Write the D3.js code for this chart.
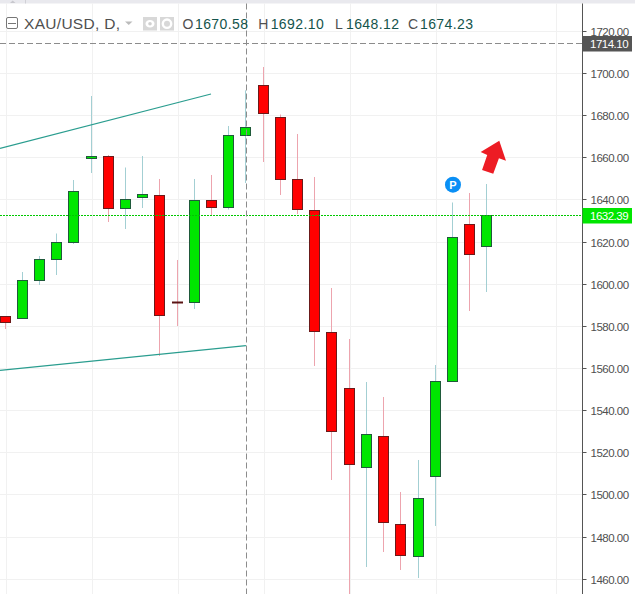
<!DOCTYPE html>
<html>
<head>
<meta charset="utf-8">
<script src="https://cdnjs.cloudflare.com/ajax/libs/d3/7.8.5/d3.min.js"></script>
<style>
html,body{margin:0;padding:0;background:#fff;overflow:hidden}
svg{display:block}
text{font-family:"Liberation Sans",Arial,sans-serif}
</style>
</head>
<body>
<svg id="chart" width="635" height="594"></svg>
<script>
// ---- data ----
const opens  = [1584.78,1583.83,1601.86,1611.83,1619.89,1659.74,1660.69,1636.02,1641.24,1642.19,1591.42,1591.42,1639.82,1636.50,1670.58,1694.38,1679.20,1649.78,1635.07,1577.19,1550.62,1513.14,1527.85,1486.10,1470.91,1508.87,1553.94,1628.43,1617.99];
const highs  = [1585.00,1605.90,1613.49,1624.16,1649.54,1689.40,1661.41,1655.47,1660.93,1650.02,1611.59,1650.02,1651.92,1675.16,1692.10,1703.16,1680.62,1671.37,1650.97,1598.30,1574.11,1553.70,1546.59,1501.52,1516.70,1561.77,1638.87,1643.38,1647.65];
const lows   = [1578.85,1583.83,1599.73,1604.47,1619.18,1652.87,1629.62,1626.30,1636.26,1566.04,1580.27,1588.34,1632.70,1635.55,1648.12,1658.08,1642.43,1633.41,1561.30,1507.21,1451.22,1465.93,1473.05,1464.51,1460.71,1485.38,1553.94,1587.39,1596.41];
const closes = [1581.94,1601.86,1611.83,1619.89,1644.09,1660.69,1636.02,1640.29,1642.66,1585.26,1591.42,1639.82,1636.50,1670.66,1674.23,1681.10,1649.78,1635.55,1577.66,1530.22,1514.56,1528.80,1487.04,1471.39,1498.43,1553.94,1622.26,1614.20,1632.39];
const isDown = [1,0,0,0,0,0,1,0,0,1,1,0,1,0,0,1,1,1,1,1,1,0,1,1,0,0,0,1,0];

const priceTicks = [1720,1700,1680,1660,1640,1620,1600,1580,1560,1540,1520,1500,1480,1460];
const timeGrid = [0,5,10,15,20,25,32];
const crosshairIndex = 14;
const crosshairPrice = 1714.10;
const lastPrice = 1632.39;
const trendUpper = [[-0.29,1664.58],[11.97,1690.35]];
const trendLower = [[-0.29,1559.26],[14.0,1570.93]];
const arrowShape = [[28.72,1668.19],[29.11,1658.70],[28.70,1659.84],[28.37,1652.53],[27.72,1654.29],[28.02,1661.41],[27.64,1662.83]];
const pinMarker = {index:26.03, price:1647.31, label:"P"};
const symbolTitle = "XAU/USD, D,";
const legendKeys = ["O","H","L","C"];
const legendVals = [opens[14],highs[14],lows[14],closes[14]];

// ---- layout ----
const W=635,H=594,axisX=582.5,topY=3.5;
const x=d3.scaleLinear().domain([0,28]).range([5,486.88]);
const y=d3.scaleLinear().domain([1720,1460]).range([31.5,579.5]);
const cx=i=>Math.floor(x(i))+.5;
const cy=v=>Math.floor(y(v)-.2)+.5;
const svg=d3.select("#chart");
const idx=d3.range(opens.length);

// top strip
svg.append("rect").attr("width",W).attr("height",3.5).attr("fill","#e9e9ee");
svg.append("path").attr("d",`M25.5 0V3.5`).attr("stroke","#d0d0d6");
svg.append("path").attr("d",`M10 3L12.7 0.5L15.5 3Z`).attr("fill","#c8c8ce");

// grid
const plot=svg.append("g");
plot.append("g").selectAll("line").data(priceTicks).join("line")
  .attr("x1",0).attr("x2",axisX).attr("y1",cy).attr("y2",cy)
  .attr("stroke","#f1f1f1");
plot.append("g").selectAll("line").data(timeGrid).join("line")
  .attr("x1",d=>cx(d)+1).attr("x2",d=>cx(d)+1).attr("y1",topY).attr("y2",H)
  .attr("stroke","#f1f1f1");

// wicks
plot.append("g").selectAll("line").data(idx).join("line")
  .attr("x1",cx).attr("x2",cx)
  .attr("y1",i=>y(highs[i])).attr("y2",i=>y(lows[i]))
  .attr("stroke",i=>isDown[i]?"#eda4ae":"#a3cfd3");

// bodies
plot.append("g").selectAll("rect").data(idx.filter(i=>opens[i]!==closes[i])).join("rect")
  .attr("x",i=>cx(i)-5).attr("width",10)
  .attr("y",i=>cy(Math.max(opens[i],closes[i])))
  .attr("height",i=>cy(Math.min(opens[i],closes[i]))-cy(Math.max(opens[i],closes[i])))
  .attr("fill",i=>isDown[i]?"#ff0000":"#00e600")
  .attr("stroke",i=>isDown[i]?"#6b1a1a":"#1f5a3a");
plot.append("g").selectAll("line").data(idx.filter(i=>opens[i]===closes[i])).join("line")
  .attr("x1",i=>cx(i)-5.5).attr("x2",i=>cx(i)+5.5)
  .attr("y1",i=>cy(opens[i])).attr("y2",i=>cy(opens[i]))
  .attr("stroke","#5a1414").attr("stroke-width",2);

// trend lines
const tl=d3.line().x(d=>x(d[0])).y(d=>y(d[1]));
[trendUpper,trendLower].forEach(t=>{
  plot.append("path").attr("d",tl(t)).attr("fill","none").attr("stroke","#2a9d8f").attr("stroke-width",1.2);
});

// last price line
plot.append("line").attr("x1",0).attr("x2",axisX).attr("y1",cy(lastPrice)).attr("y2",cy(lastPrice))
  .attr("stroke","#00c800").attr("stroke-dasharray","2,1");

// crosshair
plot.append("line").attr("x1",0).attr("x2",axisX).attr("y1",cy(crosshairPrice)).attr("y2",cy(crosshairPrice))
  .attr("stroke","#8c8c8c").attr("stroke-dasharray","6,3");
plot.append("line").attr("x1",cx(crosshairIndex)+1).attr("x2",cx(crosshairIndex)+1).attr("y1",topY).attr("y2",H)
  .attr("stroke","#8c8c8c").attr("stroke-dasharray","6,3");

// arrow
plot.append("path").attr("d",d3.line().x(d=>x(d[0])).y(d=>y(d[1])).curve(d3.curveLinearClosed)(arrowShape))
  .attr("fill","#ed1c24");

// pin
const pin=plot.append("g").attr("transform",`translate(${x(pinMarker.index)},${y(pinMarker.price)})`);
pin.append("circle").attr("r",8).attr("fill","#0a8ff5");
pin.append("text").attr("text-anchor","middle").attr("y",3.8).attr("fill","#fff")
  .attr("font-size",11).attr("font-weight","bold").text(pinMarker.label);

// price axis
const axis=svg.append("g").attr("transform",`translate(${axisX},0)`)
  .call(d3.axisRight(y).tickValues(priceTicks).tickSize(4).tickPadding(4).tickFormat(d3.format(".2f")));
axis.select(".domain").attr("d",`M0 ${topY}V${H}`).attr("stroke","#555");
axis.selectAll(".tick").attr("transform",d=>`translate(0,${cy(d)})`);
axis.selectAll(".tick line").attr("stroke","#555");
axis.selectAll(".tick text").attr("font-size",11.5).attr("letter-spacing",-.5).attr("fill","#4f4f4f").attr("font-family","Liberation Sans").attr("y",.5).attr("dy","0.36em");

// price tags
[[crosshairPrice,"#555555"],[lastPrice,"#00e600"]].forEach(([v,c])=>{
  svg.append("rect").attr("x",axisX).attr("y",cy(v)-7.5).attr("width",49.5).attr("height",15.5).attr("fill",c);
  svg.append("text").attr("x",590).attr("y",cy(v)+4.6).attr("fill","#fff").attr("font-size",11.5).attr("letter-spacing",-.5).text(v.toFixed(2));
});

// legend
const lg=svg.append("g");
lg.append("rect").attr("x",6.5).attr("y",17.5).attr("width",11).attr("height",11).attr("rx",1.5)
  .attr("fill","#fff").attr("stroke","#777");
lg.append("path").attr("d","M8 23.5H16").attr("stroke","#777");
lg.append("text").attr("x",24).attr("y",29).attr("font-size",15.5).attr("letter-spacing",.3).attr("fill","#4f4f4f").text(symbolTitle);
lg.append("path").attr("d","M125 21.5H132.5L128.75 25Z").attr("fill","#bbb");
lg.append("rect").attr("x",143).attr("y",17).attr("width",14).attr("height",13.5).attr("fill","#d8d8d8");
lg.append("ellipse").attr("cx",150).attr("cy",23.7).attr("rx",4.5).attr("ry",3.8).attr("fill","#fff");
lg.append("circle").attr("cx",150).attr("cy",23.7).attr("r",1.8).attr("fill","#d0d0d0");
lg.append("rect").attr("x",160).attr("y",17).attr("width",14).attr("height",13.5).attr("fill","#d8d8d8");
lg.append("circle").attr("cx",167).attr("cy",23.7).attr("r",4.2).attr("fill","none").attr("stroke","#fff").attr("stroke-width",2.4);
const keyX=[182.5,258.3,335,408], valX=[195,270.7,346,420];
legendKeys.forEach((k,i)=>{
  lg.append("text").attr("x",keyX[i]).attr("y",29).attr("font-size",14).attr("letter-spacing",.4).attr("fill","#4f4f4f").text(k);
  lg.append("text").attr("x",valX[i]).attr("y",29).attr("font-size",14).attr("letter-spacing",.4).attr("fill","#14544c").text(legendVals[i].toFixed(2));
});
</script>
</body>
</html>
